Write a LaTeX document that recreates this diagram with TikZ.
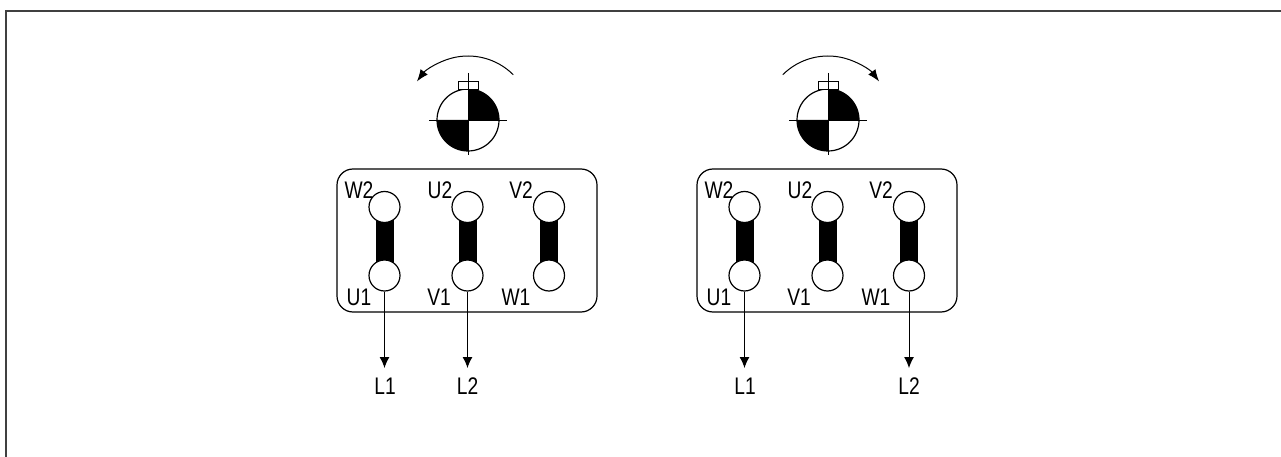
\documentclass[tikz,border=0pt]{standalone}
\usepackage{fontspec}
\usepackage{graphicx}
\setmainfont{Liberation Sans}
\newcommand{\nt}[1]{\scalebox{0.8}[1]{#1}}
\usetikzlibrary{arrows.meta}
\begin{document}
\begin{tikzpicture}[x=1pt,y=-1pt,
  term/.style={circle,draw,line width=1.2pt,minimum size=31pt,inner sep=0pt,fill=white},
  lbl/.style={font=\fontsize{24}{24}\selectfont,inner sep=0pt},
  tbox/.style={draw,line width=1.2pt,rounded corners=16pt},
  bar/.style={fill=black},
  wire/.style={line width=1pt,-{Latex[length=11pt,width=10pt]}},
  rot/.style={line width=1pt,-{Latex[length=12pt,width=9pt]}},
  frame/.style={line width=1.3pt,black!75}]
\useasboundingbox (0,0) rectangle (1281,457);
\draw[frame] (6,457) -- (6,11) -- (1281,11);

% ---------- motor symbols ----------
\foreach \cx/\nm in {468/A,828/B}{
  \coordinate (m\nm) at (\cx,120);
  \fill (m\nm) -- ++(0,-31) arc[start angle=270,end angle=360,radius=31] -- cycle;
  \fill (m\nm) -- ++(-31,0) arc[start angle=180,end angle=90,radius=31] -- cycle;
  \draw[line width=1.2pt] (m\nm) circle[radius=31];
  \draw[line width=0.9pt,fill=white] (\cx-10,81.5) rectangle (\cx+10,89);
  \draw[line width=0.9pt] (\cx-39,120) -- (\cx+39,120);
  \draw[line width=0.9pt] (\cx,73) -- (\cx,155);
}
\draw[rot] (mA) ++(-45:64) arc[start angle=-45,end angle=-143,radius=64];
\draw[rot] (mB) ++(-135:64) arc[start angle=-135,end angle=-37,radius=64];

% ---------- terminal boxes ----------
\draw[tbox] (337,169) rectangle (597,312);
\draw[tbox] (697,169) rectangle (957,312);

\foreach \dx/\s in {0/a,360/b}{
  \foreach \x/\c in {384.5/1,467.5/2,549/3}{
    \fill[bar] (\x+\dx-9,207) rectangle (\x+\dx+9,275.5);
    \node[term] (t\s\c) at (\x+\dx,207) {};
    \node[term] (b\s\c) at (\x+\dx,275.5) {};
  }
  \node[lbl] at (359+\dx,190) {\nt{W2}};
  \node[lbl] at (440+\dx,190) {\nt{U2}};
  \node[lbl] at (521+\dx,190) {\nt{V2}};
  \node[lbl] at (359+\dx,297) {\nt{U1}};
  \node[lbl] at (439+\dx,297) {\nt{V1}};
  \node[lbl] at (516+\dx,297) {\nt{W1}};
}

% ---------- supply leads ----------
\node[lbl] (aL1) at (385,386) {\nt{L1}};
\node[lbl] (aL2) at (467.5,386) {\nt{L2}};
\node[lbl] (bL1) at (745,386) {\nt{L1}};
\node[lbl] (bL2) at (909,386) {\nt{L2}};
\draw[wire] (ba1.south) -- (ba1.south |- 0,368);
\draw[wire] (ba2.south) -- (ba2.south |- 0,368);
\draw[wire] (bb1.south) -- (bb1.south |- 0,368);
\draw[wire] (bb3.south) -- (bb3.south |- 0,368);
\end{tikzpicture}
\end{document}
